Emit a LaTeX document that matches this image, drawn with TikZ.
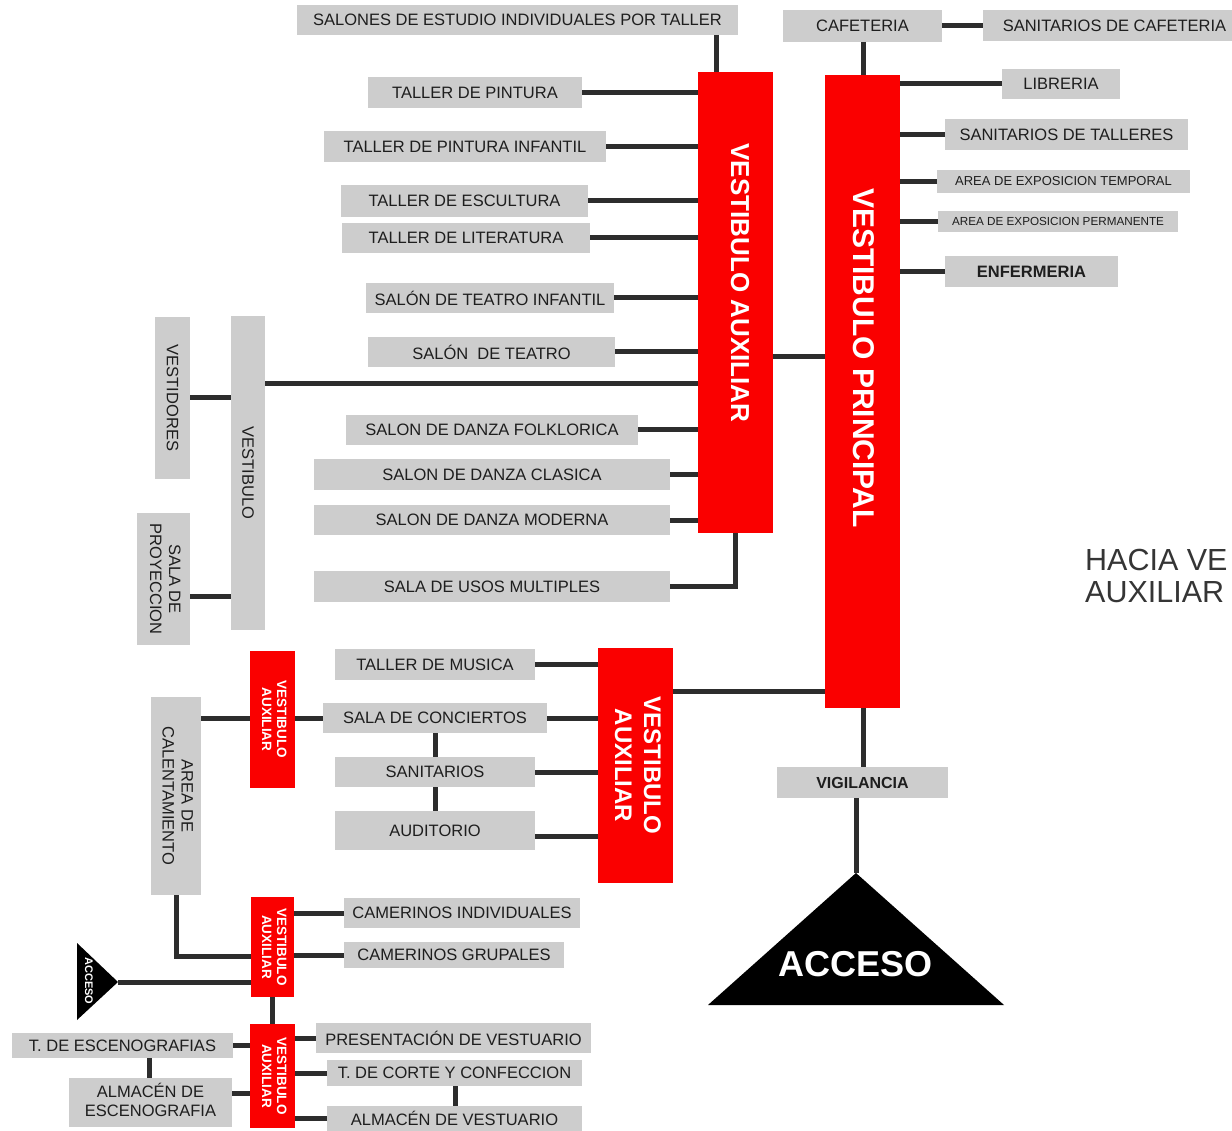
\documentclass[tikz,border=0pt]{standalone}
\usepackage{fontspec}
\setmainfont{Liberation Sans}
\usetikzlibrary{calc}
\definecolor{boxgray}{RGB}{205,205,205}
\definecolor{vred}{RGB}{250,0,0}
\definecolor{lineg}{RGB}{45,45,45}
\definecolor{txt}{RGB}{30,30,30}
\newcommand\fs[2]{\fontsize{#1}{#2}\selectfont}
\newcommand\bx[7][]{%
  \pgfmathsetmacro\bxw{#5-#3}%
  \pgfmathsetmacro\bxh{#6-#4}%
  \pgfmathsetmacro\bxcx{(#3+#5)/2}%
  \pgfmathsetmacro\bxcy{(#4+#6)/2}%
  \node[gbox,minimum width=\bxw pt,minimum height=\bxh pt,#1] (#2) at (\bxcx,\bxcy) {#7};}
\newcommand\vlab[2]{\rotatebox{-90}{\begin{tabular}{@{}c@{}}#1\\#2\end{tabular}}}
\begin{document}
\begin{tikzpicture}[x=1pt,y=-1pt,
  gbox/.style={fill=boxgray,inner sep=0pt,outer sep=0pt,text=txt,font=\fs{16.5}{19}},
  rbox/.style={fill=vred,inner sep=0pt,outer sep=0pt,text=white},
  conn/.style={draw=lineg,line width=5pt},
  vtxt/.style={inner sep=0pt,text=white,font=\bfseries\fs{26}{30}},
  smallred/.style={rbox,font=\bfseries\fs{13.5}{15}}]
\useasboundingbox (0,0) rectangle (1232,1131);

% ---------- upper auxiliary vestibule ----------
\bx[rbox]{va1}{698}{72}{773}{533}{}
\node[vtxt] (va1t) at (740,283) {\rotatebox{-90}{VESTIBULO AUXILIAR}};
\bx{sal}{297}{5}{738}{35}{SALONES DE ESTUDIO INDIVIDUALES POR TALLER}
\bx{tp}{368}{77}{582}{108}{TALLER DE PINTURA}
\bx{tpi}{324}{131}{606}{162}{TALLER DE PINTURA INFANTIL}
\bx{tes}{341}{185}{588}{217}{TALLER DE ESCULTURA}
\bx{tli}{342}{223}{590}{253}{TALLER DE LITERATURA}
\bx{sti}{366}{283}{614}{313}{SALÓN DE TEATRO INFANTIL}
\bx{ste}{368}{337}{615}{367}{SALÓN\ \ DE TEATRO}
\bx{sdf}{346}{415}{638}{445}{SALON DE DANZA FOLKLORICA}
\bx{sdc}{314}{459}{670}{490}{SALON DE DANZA CLASICA}
\bx{sdm}{314}{505}{670}{535}{SALON DE DANZA MODERNA}
\bx{sum}{314}{571}{670}{602}{SALA DE USOS MULTIPLES}
\bx{vbl}{231}{316}{265}{630}{\rotatebox{-90}{VESTIBULO}}
\bx{vdo}{155}{317}{190}{479}{\rotatebox{-90}{VESTIDORES}}
\bx{spr}{137}{513}{190}{645}{\vlab{SALA DE}{PROYECCION}}

\coordinate (c1) at (716,0);
\coordinate (c2) at (735,0);
\coordinate (c3) at (0,384);
\coordinate (c4) at (0,596);
\draw[conn] (sal.south -| c1) -- (va1.north -| c1);
\foreach \n in {tp,tpi,tes,tli,sti,ste,sdf,sdc,sdm}
  \draw[conn] (\n.east) -- (\n.east -| va1.west);
\draw[conn] (sum.east) -| (va1.south -| c2);
\draw[conn] (vbl.east |- c3) -- (va1.west |- c3);
\draw[conn] (vdo.east) -- (vdo.east -| vbl.west);
\draw[conn] (spr.east |- c4) -- (vbl.west |- c4);

% ---------- main vestibule ----------
\bx[rbox]{vp}{825}{75}{900}{708}{}
\node[vtxt,font=\bfseries\fs{30}{34}] (vpt) at (864,358) {\rotatebox{-90}{VESTIBULO PRINCIPAL}};
\coordinate (c5) at (0,357);
\draw[conn] (va1.east |- c5) -- (vp.west |- c5);
\bx{caf}{783}{10}{942}{42}{CAFETERIA}
\bx{scaf}{983}{10}{1232}{41}{\hspace*{14pt}SANITARIOS DE CAFETERIA}
\draw[conn] (caf.east) -- (caf.east -| scaf.west);
\coordinate (c7) at (863,0);
\draw[conn] (caf.south -| c7) -- (vp.north -| c7);
\bx{lib}{1002}{69}{1120}{99}{LIBRERIA}
\bx{stal}{945}{119}{1188}{150}{SANITARIOS DE TALLERES}
\bx[font=\fs{13}{15}]{aet}{937}{170}{1190}{193}{AREA DE EXPOSICION TEMPORAL}
\bx[font=\fs{11.7}{14}]{aep}{938}{211}{1178}{232}{AREA DE EXPOSICION PERMANENTE}
\bx[font=\bfseries\fs{16.5}{19}]{enf}{945}{256}{1118}{287}{ENFERMERIA}
\foreach \n in {lib,stal,aet,aep,enf}
  \draw[conn] (\n.west) -- (\n.west -| vp.east);
\bx[font=\bfseries\fs{16}{19}]{vig}{777}{767}{948}{798}{VIGILANCIA}
\draw[conn] (vp.south -| c7) -- (vig.north -| c7);
\coordinate (apx) at (856,873);
\fill[black] (apx) -- (1004,1005) -- (708,1005) -- cycle;
\draw[conn] (vig.south -| apx) -- (apx);
\node[font=\bfseries\fs{36}{40},text=white,anchor=base,inner sep=0pt] (acct) at (856,976) {ACCESO};

\node[anchor=base west,inner sep=0pt,font=\fs{30.5}{32},text=txt!90] (h1) at (1085,570) {HACIA VE};
\node[anchor=base west,inner sep=0pt,font=\fs{30.5}{32},text=txt!90] (h2) at (1085,602) {AUXILIAR};

% ---------- music block ----------
\bx[rbox,font=\bfseries\fs{24}{29}]{va2}{598}{648}{673}{883}{\vlab{VESTIBULO}{AUXILIAR}}
\coordinate (c9) at (0,691);
\draw[conn] (va2.east |- c9) -- (vp.west |- c9);
\bx{tmu}{335}{649}{535}{680}{TALLER DE MUSICA}
\bx{sco}{323}{703}{547}{733}{SALA DE CONCIERTOS}
\bx{san}{335}{757}{535}{787}{SANITARIOS}
\bx{aud}{335}{811}{535}{850}{AUDITORIO}
\foreach \n in {tmu,sco,san}
  \draw[conn] (\n.east) -- (\n.east -| va2.west);
\coordinate (c10) at (0,836);
\draw[conn] (aud.east |- c10) -- (va2.west |- c10);
\coordinate (c11) at (435,0);
\draw[conn] (sco.south -| c11) -- (san.north -| c11);
\draw[conn] (san.south -| c11) -- (aud.north -| c11);
\bx[smallred]{vs2}{250}{651}{295}{788}{\vlab{VESTIBULO}{AUXILIAR}}
\bx{acal}{151}{697}{201}{895}{\vlab{AREA DE}{CALENTAMIENTO}}
\draw[conn] (acal.east |- sco.east) -- (vs2.west |- sco.east);
\draw[conn] (vs2.east |- sco.west) -- (sco.west);

% ---------- dressing rooms ----------
\bx[smallred]{vs3}{251}{897}{294}{997}{\vlab{VESTIBULO}{AUXILIAR}}
\bx{cin}{344}{898}{580}{928}{CAMERINOS INDIVIDUALES}
\bx{cgr}{344}{942}{564}{968}{CAMERINOS GRUPALES}
\draw[conn] (cin.west) -- (cin.west -| vs3.east);
\draw[conn] (cgr.west) -- (cgr.west -| vs3.east);
\coordinate (c12) at (176,956);
\draw[conn] (acal.south -| c12) |- (vs3.west |- c12);
\coordinate (tip) at (118,982);
\fill[black] (77,943) -- (tip) -- (77,1020) -- cycle;
\node[font=\bfseries\fs{11}{12},text=white,inner sep=0pt] (acc2) at (89,981) {\rotatebox{-90}{ACCESO}};
\draw[conn] (tip) -- (vs3.west |- tip);

% ---------- costume block ----------
\bx[smallred]{vs4}{250}{1024}{295}{1128}{\vlab{VESTIBULO}{AUXILIAR}}
\coordinate (c13) at (272,0);
\draw[conn] (vs3.south -| c13) -- (vs4.north -| c13);
\bx{pve}{316}{1023}{591}{1053}{PRESENTACIÓN DE VESTUARIO}
\bx{tcc}{327}{1060}{582}{1086}{T. DE CORTE Y CONFECCION}
\bx{ave}{327}{1106}{582}{1131}{ALMACÉN DE VESTUARIO}
\foreach \n in {pve,tcc,ave}
  \draw[conn] (\n.west) -- (\n.west -| vs4.east);
\coordinate (c14) at (455,0);
\draw[conn] (tcc.south -| c14) -- (ave.north -| c14);
\bx{tesc}{12}{1033}{233}{1058}{T. DE ESCENOGRAFIAS}
\bx{aesc}{69}{1078}{232}{1127}{\begin{tabular}{@{}c@{}}ALMACÉN DE\\ESCENOGRAFIA\end{tabular}}
\draw[conn] (tesc.east) -- (tesc.east -| vs4.west);
\coordinate (c15) at (0,1093);
\draw[conn] (aesc.east |- c15) -- (vs4.west |- c15);
\coordinate (c16) at (149,0);
\draw[conn] (tesc.south -| c16) -- (aesc.north -| c16);
\end{tikzpicture}
\end{document}
